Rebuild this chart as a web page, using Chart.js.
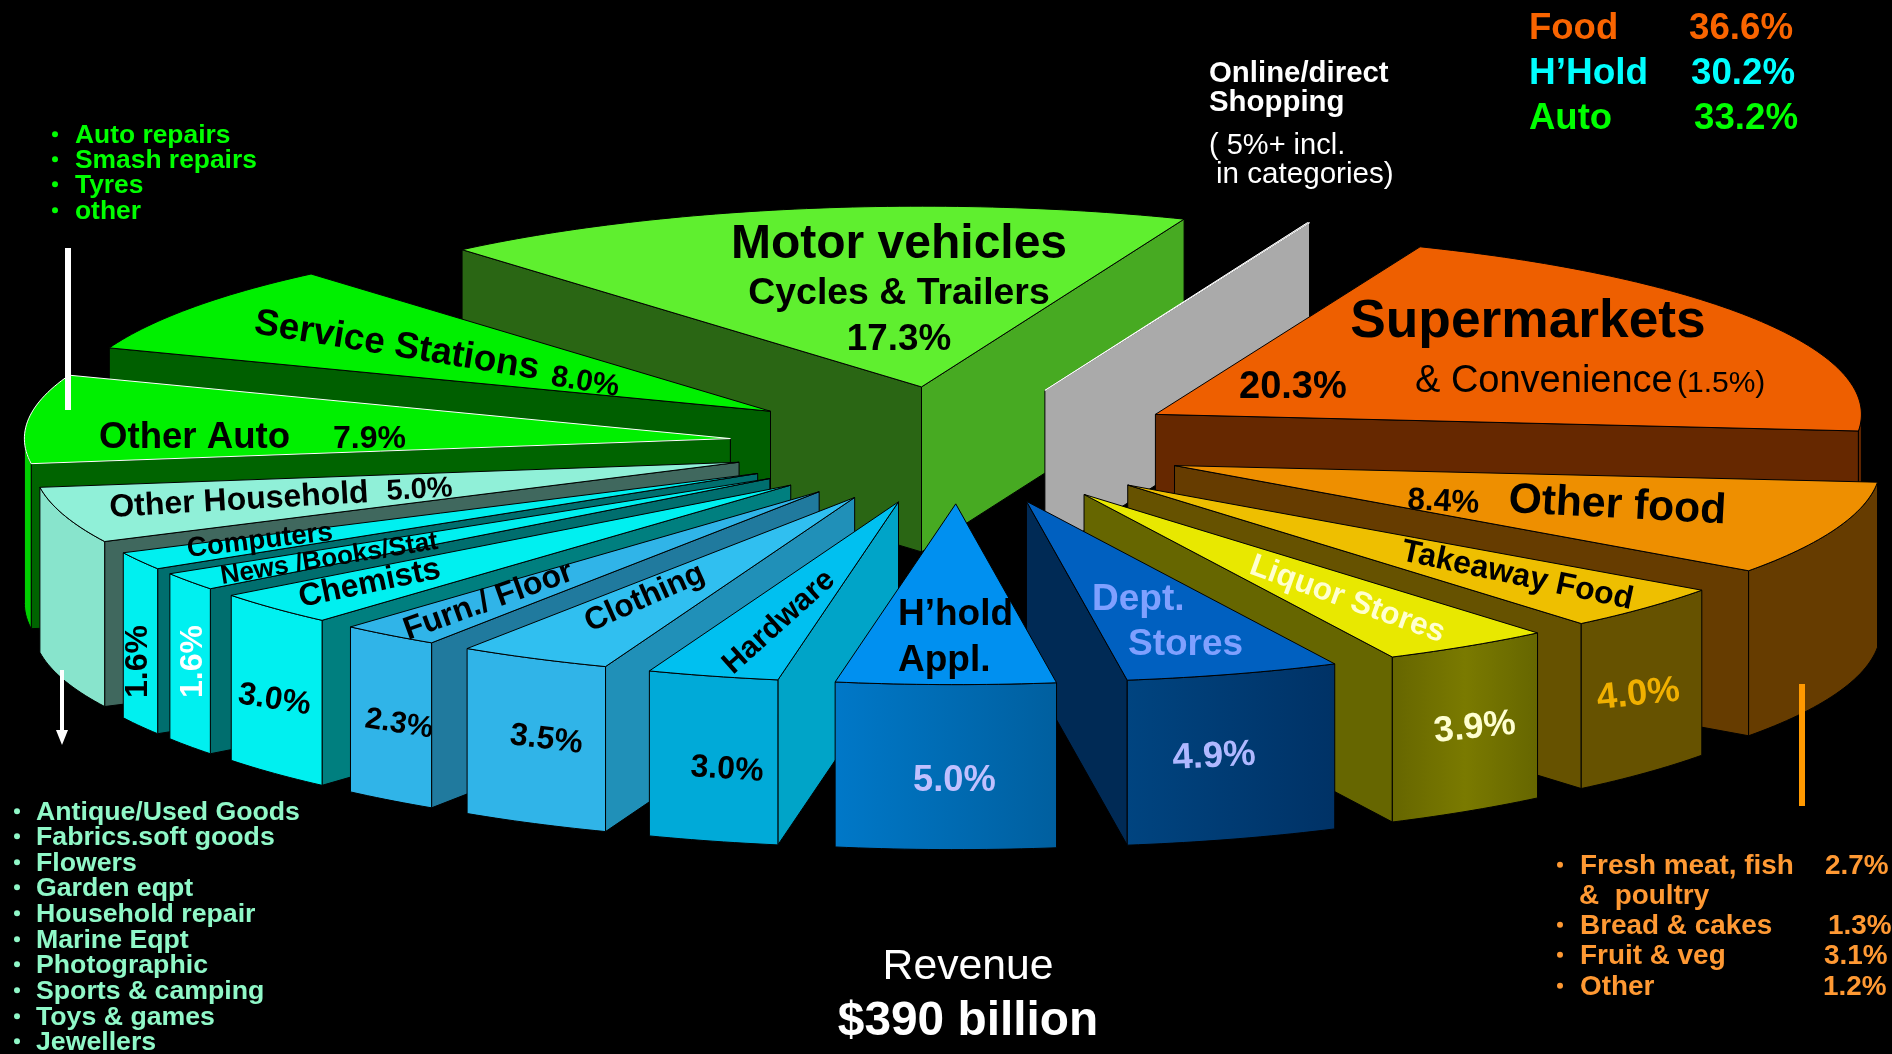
<!DOCTYPE html>
<html>
<head>
<meta charset="utf-8">
<title>Retail revenue</title>
<script src="https://cdn.jsdelivr.net/npm/chart.js@4"></script>
<style>
  html, body { margin: 0; background: #000; }
  canvas { display: block; }
</style>
</head>
<body>
<canvas id="retail" width="1892" height="1054"></canvas>
<script>
const categories = ['Motor vehicles', 'Online', 'Supermarkets', 'Other food', 'Takeaway Food', 'Liquor Stores',
  'Dept. Stores', "H'hold Appl.", 'Hardware', 'Clothing', 'Furn./ Floor', 'Chemists',
  'News /Books/Stat', 'Computers', 'Other Household', 'Other Auto', 'Service Stations'];
const shareValues = [17.3, 0.05, 20.3, 8.4, 4.0, 3.9, 4.9, 5.0, 3.0, 3.5, 2.3, 3.0, 1.6, 1.6, 5.0, 7.9, 8.0];

const topColors = ['#5fef2f', '#aaaaaa', '#ee5f00', '#ee8f00', '#eebf00', '#e8e800', '#0060c0', '#0090f0',
  '#00c0f0', '#30bff0', '#30b4e8', '#00f0f0', '#00f0f0', '#00f0f0', '#90f0d8', '#00f000', '#00f000'];
const edgeColors = ['#000', '#fff', '#000', '#000', '#000', '#000', '#000', '#000',
  '#000', '#000', '#000', '#000', '#000', '#000', '#000', '#fff', '#000'];
// wall on the first radial side, wall on the last radial side, outer rim (left to right)
const startWalls = ['#2a6614', '#aaaaaa', '#662800', '#663c00', '#665200', '#666600', '#002a55', '#00285a',
  '#00a4c8', '#2090b8', '#207a9e', '#007f7f', '#006e6e', '#006e6e', '#40685e', '#006400', '#005f00'];
const endWalls = ['#47aa22', '#aaaaaa', '#662800', '#663c00', '#665200', '#666600', '#002a55', '#00285a',
  '#00a4c8', '#2090b8', '#207a9e', '#007f7f', '#006e6e', '#006e6e', '#40685e', '#006400', '#005f00'];
const rimColors = [['#47aa22'], ['#aaaaaa'], ['#662800'], ['#663c00'], ['#665200'], ['#666600', '#7a7a00', '#666600'],
  ['#004480', '#003266'], ['#0078c8', '#005f9f'], ['#00aad8'], ['#30b4e8'], ['#30b4e8'], ['#00f0f0'],
  ['#00f0f0'], ['#00f0f0'], ['#88e4cc'], ['#00d000'], ['#00d000']];

const radiusPx = 706;
const explodePx = 230;
const squash = 0.256;
const wallHeight = 165;
const font = '"Liberation Sans", Arial, sans-serif';

const pct = (name) => shareValues[categories.indexOf(name)].toFixed(1) + '%';

const headings = [
  { text: 'Food', x: 1529, y: 39, size: 36.5, color: '#f96400' },
  { text: '36.6%', x: 1689, y: 39, size: 36.7, color: '#f96400' },
  { text: 'H\u2019Hold', x: 1529, y: 84, size: 37, color: '#00ffff' },
  { text: '30.2%', x: 1691, y: 84, size: 36.7, color: '#00ffff' },
  { text: 'Auto', x: 1529, y: 129, size: 36.5, color: '#00ff00' },
  { text: '33.2%', x: 1694, y: 129, size: 36.7, color: '#00ff00' },
  { text: 'Online/direct', x: 1209, y: 82, size: 29.4, color: '#fff' },
  { text: 'Shopping', x: 1209, y: 111, size: 29.4, color: '#fff' },
  { text: '( 5%+ incl.', x: 1209, y: 154, size: 29, color: '#fff', weight: 'normal' },
  { text: 'in categories)', x: 1216, y: 183, size: 29.6, color: '#fff', weight: 'normal' },
  { text: 'Revenue', x: 968, y: 979, size: 42.7, color: '#fff', weight: 'normal', align: 'center' },
  { text: '$390 billion', x: 968, y: 1035, size: 47.8, color: '#fff', align: 'center' }
];

const sliceLabels = [
  { text: 'Motor vehicles', x: 899, y: 258, size: 48, align: 'center' },
  { text: 'Cycles & Trailers', x: 899, y: 304, size: 37.4, align: 'center' },
  { text: pct('Motor vehicles'), x: 899, y: 350, size: 36.8, align: 'center' },
  { text: 'Supermarkets', x: 1528, y: 337, size: 53.3, align: 'center' },
  { text: '& Convenience', x: 1415, y: 392, size: 38, weight: 'normal' },
  { text: '(1.5%)', x: 1677, y: 392, size: 30, weight: 'normal' },
  { text: pct('Supermarkets'), x: 1239, y: 398, size: 38 },
  { text: 'Service Stations', x: 253, y: 333, size: 37, rot: 9.2 },
  { text: pct('Service Stations'), x: 550, y: 385, size: 30, rot: 9.2 },
  { text: 'Other Auto', x: 99, y: 448, size: 36.6 },
  { text: pct('Other Auto'), x: 333, y: 448, size: 32 },
  { text: 'Other Household', x: 110, y: 517, size: 32, rot: -3.3 },
  { text: pct('Other Household'), x: 387, y: 500, size: 29, rot: -3.3 },
  { text: 'Computers', x: 188, y: 557, size: 27.8, rot: -6.7 },
  { text: 'News /Books/Stat', x: 222, y: 584, size: 26.2, rot: -9.3 },
  { text: 'Chemists', x: 301, y: 607, size: 32, rot: -11.8 },
  { text: 'Furn./ Floor', x: 408, y: 640, size: 32, rot: -20 },
  { text: 'Clothing', x: 590, y: 632, size: 31.5, rot: -24 },
  { text: 'Hardware', x: 733, y: 675, size: 30.5, rot: -42 },
  { text: 'H\u2019hold', x: 898, y: 625, size: 37 },
  { text: 'Appl.', x: 898, y: 671, size: 37 },
  { text: 'Dept.', x: 1092, y: 610, size: 37, color: '#7fa0ff' },
  { text: 'Stores', x: 1128, y: 655, size: 37, color: '#7fa0ff' },
  { text: 'Liquor Stores', x: 1248, y: 573, size: 31.5, rot: 19.8, color: '#ffffd0' },
  { text: 'Takeaway Food', x: 1400, y: 560, size: 32, rot: 12 },
  { text: pct('Other food'), x: 1407, y: 509, size: 31.5, rot: 3 },
  { text: 'Other food', x: 1508, y: 512, size: 42.6, rot: 3 },
  { text: pct('Computers'), x: 147, y: 698, size: 32, rot: -90 },
  { text: pct('News /Books/Stat'), x: 202, y: 698, size: 32, rot: -90, color: '#fff' },
  { text: pct('Chemists'), x: 237, y: 703, size: 32, rot: 9 },
  { text: pct('Furn./ Floor'), x: 364, y: 727, size: 30, rot: 9 },
  { text: pct('Clothing'), x: 509, y: 744, size: 32, rot: 7 },
  { text: pct('Hardware'), x: 690, y: 776, size: 32, rot: 4 },
  { text: pct("H'hold Appl."), x: 913, y: 791, size: 36.3, color: '#c0c0ff' },
  { text: pct('Dept. Stores'), x: 1173, y: 769, size: 36.5, rot: -3, color: '#b0b8ff' },
  { text: pct('Liquor Stores'), x: 1435, y: 742, size: 36, rot: -6, color: '#ffffd0' },
  { text: pct('Takeaway Food'), x: 1598, y: 709, size: 36.5, rot: -6, color: '#f0b000' }
];

const bulletLists = [
  { color: '#00ff00', bulletX: 55, textX: 75, size: 26.4,
    rows: [['Auto repairs', 143], ['Smash repairs', 168], ['Tyres', 193], ['other', 219]] },
  { color: '#90f8c8', bulletX: 17, textX: 36, size: 26.7,
    rows: [['Antique/Used Goods', 820], ['Fabrics.soft goods', 845], ['Flowers', 871], ['Garden eqpt', 896],
      ['Household repair', 922], ['Marine Eqpt', 948], ['Photographic', 973], ['Sports & camping', 999],
      ['Toys & games', 1025], ['Jewellers', 1050]] },
  { color: '#ff9933', bulletX: 1560, textX: 1580, size: 27.9,
    rows: [['Fresh meat, fish', 874], ['Bread & cakes', 934], ['Fruit & veg', 964], ['Other', 995]] }
];
const foodShares = [['2.7%', 1825, 874], ['1.3%', 1828, 934], ['3.1%', 1824, 964], ['1.2%', 1823, 995]];

function putText(ctx, t) {
  ctx.save();
  ctx.translate(t.x, t.y);
  if (t.rot) ctx.rotate(t.rot * Math.PI / 180);
  ctx.font = (t.weight || 'bold') + ' ' + t.size + 'px ' + font;
  ctx.fillStyle = t.color || '#000';
  ctx.textAlign = t.align || 'left';
  ctx.textBaseline = 'alphabetic';
  ctx.fillText(t.text, 0, 0);
  ctx.restore();
}

function fillFace(ctx, pts, fill, edge) {
  ctx.beginPath();
  pts.forEach((p, i) => (i ? ctx.lineTo(p[0], p[1]) : ctx.moveTo(p[0], p[1])));
  ctx.closePath();
  ctx.fillStyle = fill;
  ctx.fill();
  ctx.strokeStyle = edge;
  ctx.lineWidth = 1;
  ctx.stroke();
}

function wall(top) {
  return top.concat(top.slice().reverse().map((p) => [p[0], p[1] + wallHeight]));
}

// Draws the arcs laid out by the pie controller as tilted solid wedges
const solidPie = {
  id: 'solidPie',
  beforeDatasetsDraw(chart) {
    const ctx = chart.ctx;
    const arcs = chart.getDatasetMeta(0).data.map((arc, i) => ({ arc, i }));
    const mid = (a) => (a.startAngle + a.endAngle) / 2;
    arcs.sort((p, q) => Math.sin(mid(p.arc)) - Math.sin(mid(q.arc)));

    arcs.forEach(({ arc, i }) => {
      const off = arc.options.offset;
      const tipX = arc.x + Math.cos(mid(arc)) * off;
      const tipY = arc.y + Math.sin(mid(arc)) * off * squash;
      const rimAt = (a) => [tipX + Math.cos(a) * arc.outerRadius, tipY + Math.sin(a) * arc.outerRadius * squash];
      const rimBetween = (from, to) => {
        const out = [];
        const steps = Math.max(2, Math.ceil((to - from) * 60));
        for (let s = 0; s <= steps; s++) out.push(rimAt(from + (to - from) * s / steps));
        return out;
      };
      const tip = [tipX, tipY];
      const edge = arc.options.borderColor;

      // only the faces turned towards the viewer
      if (Math.cos(arc.startAngle) < 0) fillFace(ctx, wall([tip, rimAt(arc.startAngle)]), startWalls[i], '#000');
      if (Math.cos(arc.endAngle) > 0) fillFace(ctx, wall([tip, rimAt(arc.endAngle)]), endWalls[i], '#000');

      const from = Math.max(arc.startAngle, 0);
      const to = Math.min(arc.endAngle, Math.PI);
      if (to > from) {
        const rim = rimBetween(from, to);
        const stops = rimColors[i];
        let fill = stops[0];
        if (stops.length > 1) {
          const xs = rim.map((p) => p[0]);
          fill = ctx.createLinearGradient(Math.min(...xs), 0, Math.max(...xs), 0);
          stops.forEach((c, k) => fill.addColorStop(k / (stops.length - 1), c));
        }
        fillFace(ctx, wall(rim), fill, '#000');
      }

      fillFace(ctx, [tip].concat(rimBetween(arc.startAngle, arc.endAngle)), arc.options.backgroundColor, edge);
    });
    return false;
  },
  afterDraw(chart) {
    const ctx = chart.ctx;
    headings.forEach((t) => putText(ctx, t));
    sliceLabels.forEach((t) => putText(ctx, t));

    bulletLists.forEach((list) => {
      list.rows.forEach(([text, y]) => {
        putText(ctx, { text, x: list.textX, y, size: list.size, color: list.color });
        ctx.beginPath();
        ctx.arc(list.bulletX, y - list.size * 0.33, 3, 0, Math.PI * 2);
        ctx.fillStyle = list.color;
        ctx.fill();
      });
    });
    putText(ctx, { text: '&  poultry', x: 1579, y: 904, size: 27.9, color: '#ff9933' });
    foodShares.forEach(([text, x, y]) => putText(ctx, { text, x, y, size: 27.9, color: '#ff9933' }));

    // leader lines to the lists
    ctx.fillStyle = '#fff';
    ctx.fillRect(65, 248, 6, 162);
    ctx.fillRect(60, 670, 4, 62);
    ctx.beginPath();
    ctx.moveTo(56, 730);
    ctx.lineTo(68, 730);
    ctx.lineTo(62, 745);
    ctx.fill();
    ctx.fillStyle = '#ff9900';
    ctx.fillRect(1799, 684, 6, 122);
  }
};

new Chart(document.getElementById('retail'), {
  type: 'pie',
  data: {
    labels: categories,
    datasets: [{
      data: shareValues,
      backgroundColor: topColors,
      borderColor: edgeColors,
      offset: explodePx,
      radius: radiusPx
    }]
  },
  options: {
    responsive: false,
    animation: false,
    rotation: -40.6,
    layout: { padding: { left: 26, bottom: 164 } },
    plugins: { legend: { display: false }, tooltip: { enabled: false } }
  },
  plugins: [solidPie]
});
</script>
</body>
</html>
